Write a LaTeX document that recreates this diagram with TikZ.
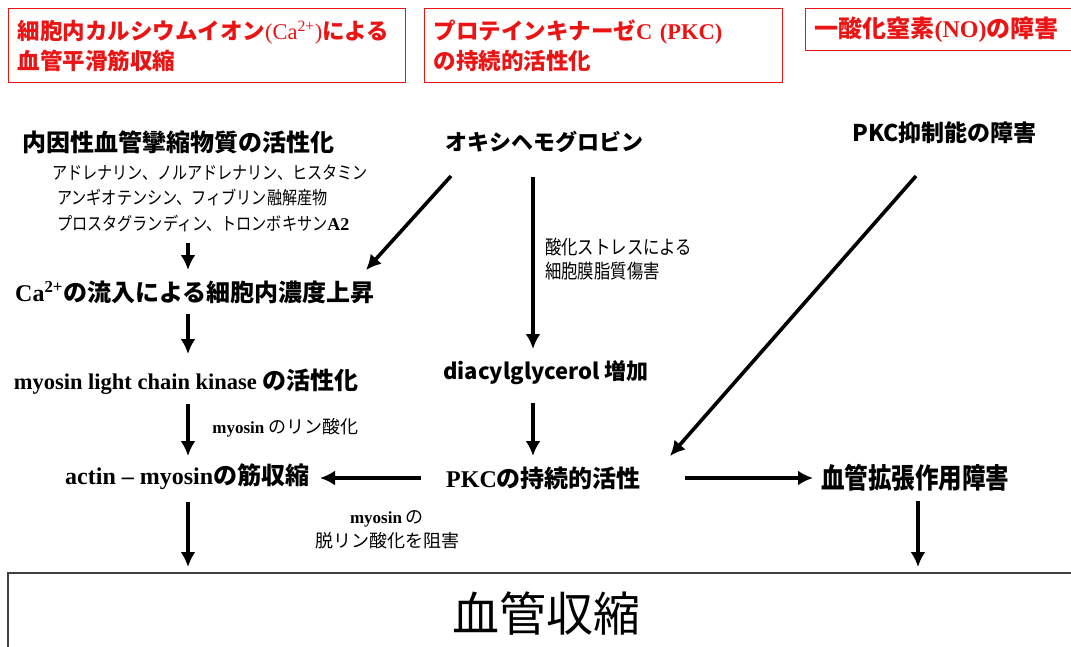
\documentclass[tikz,border=0pt]{standalone}
\usepackage{fontspec}
\setmainfont{Liberation Serif}
\newfontfamily\jp{Noto Sans CJK JP}
\newfontfamily\jpc[FakeStretch=0.84]{Noto Sans CJK JP}
\newfontfamily\sr{Liberation Serif}
\usetikzlibrary{arrows.meta}
\definecolor{boxred}{RGB}{235,20,20}
\newcommand{\fs}[1]{\fontsize{#1}{#1}\selectfont}
\tikzset{
  arr/.style={line width=3.6pt, -{Latex[length=15pt,width=15pt]}},
  lbl/.style={anchor=west, inner sep=0pt},
  big/.style={lbl, font=\jp\bfseries\fs{24}},
  small/.style={lbl, font=\jpc\fs{18}},
  redbox/.style={draw=boxred, line width=1.1pt, anchor=north west, align=left,
     font=\jp\bfseries\fontsize{22.5}{30}\selectfont, text=boxred, inner xsep=9pt, inner ysep=0pt}
}
\begin{document}
\begin{tikzpicture}[x=1pt,y=-1pt]
\useasboundingbox (0,0) rectangle (1071,646);
\fill[white] (0,0) rectangle (1071,646);

% red header boxes
\node[redbox, minimum width=397pt, minimum height=74pt, text width=379pt] (h1) at (8,8)
  {細胞内カルシウムイオン{\sr\mdseries(Ca\textsuperscript{2+})}による\\血管平滑筋収縮};
\node[redbox, minimum width=358pt, minimum height=74pt, text width=340pt] (h2) at (424,8)
  {プロテインキナーゼ{\sr\bfseries C (PKC)}\\の持続的活性化};
\node[redbox, minimum width=290pt, minimum height=42pt, text width=272pt, font=\jp\bfseries\fs{24}] (h3) at (805,8)
  {一酸化窒素{\sr\bfseries (NO)}の障害};

% left column
\node[big] (endo) at (22,142) {内因性血管攣縮物質の活性化};
\node[small] (s1) at (52,173) {アドレナリン、ノルアドレナリン、ヒスタミン};
\node[small] (s2) at (57,198) {アンギオテンシン、フィブリン融解産物};
\node[small] (s3) at (57,224) {プロスタグランディン、トロンボキサン{\sr\bfseries A2}};
\node[big] (ca) at (15,292) {{\sr\bfseries Ca\textsuperscript{2+}}の流入による細胞内濃度上昇};
\node[big] (mlck) at (8,382) {{\sr\bfseries\fs{22.5} myosin light chain kinase} の活性化};
\node[lbl, font=\jp\fs{18}] (phos) at (208,428) {{\sr\bfseries\fs{17} myosin} のリン酸化};
\node[big] (am) at (65,477) {{\sr\bfseries actin – myosin}の筋収縮};
\node[inner sep=0pt, align=center, font=\jp\fs{18}] (dephos) at (387,530)
  {{\sr\bfseries\fs{17}myosin} の\\[4pt]脱リン酸化を阻害};

% middle column
\node[lbl, font=\jp\bfseries\fs{22}] (oxy) at (445,142) {オキシヘモグロビン};
\node[lbl, font=\jpc\fs{19.5}, align=left] (ox) at (545,259) {酸化ストレスによる\\[5pt]細胞膜脂質傷害};
\node[lbl, font=\jp\bfseries\fs{22}] (dag) at (443,373) {diacylglycerol 増加};
\node[big] (pkc) at (446,478) {{\sr\bfseries PKC}の持続的活性};

% right column
\node[lbl, font=\jp\bfseries\fs{23}] (pkci) at (852,133) {PKC抑制能の障害};
\node[lbl, font=\jpc\bfseries\fs{28}] (vd) at (821,478) {血管拡張作用障害};

% bottom box
\node[draw=black!75, line width=1.3pt, minimum width=1076pt, minimum height=82pt, inner sep=0pt,
      font=\jp\fs{47}] (vc) at (546,614) {血管収縮};

% connector end points
\coordinate (a1s) at (188,243); \coordinate (a1e) at (188,270);
\coordinate (a2s) at (188,314); \coordinate (a2e) at (188,354);
\coordinate (a3s) at (188,404); \coordinate (a3e) at (188,456);
\coordinate (a4s) at (188,502); \coordinate (a4e) at (188,567);
\coordinate (d1s) at (451,176); \coordinate (d1e) at (366,270);
\coordinate (v1s) at (533,177); \coordinate (v1e) at (533,349);
\coordinate (v2s) at (533,403); \coordinate (v2e) at (533,456);
\coordinate (hls) at (421,478); \coordinate (hle) at (320,478);
\coordinate (hrs) at (685,478); \coordinate (hre) at (813,478);
\coordinate (d2s) at (916,176); \coordinate (d2e) at (670,456);
\coordinate (a5s) at (918,501); \coordinate (a5e) at (918,567);

\draw[arr] (a1s) -- (a1e);
\draw[arr] (a2s) -- (a2e);
\draw[arr] (a3s) -- (a3e);
\draw[arr] (a4s) -- (a4e);
\draw[arr] (d1s) -- (d1e);
\draw[arr] (v1s) -- (v1e);
\draw[arr] (v2s) -- (v2e);
\draw[arr] (hls) -- (hle);
\draw[arr] (hrs) -- (hre);
\draw[arr] (d2s) -- (d2e);
\draw[arr] (a5s) -- (a5e);
\end{tikzpicture}
\end{document}
